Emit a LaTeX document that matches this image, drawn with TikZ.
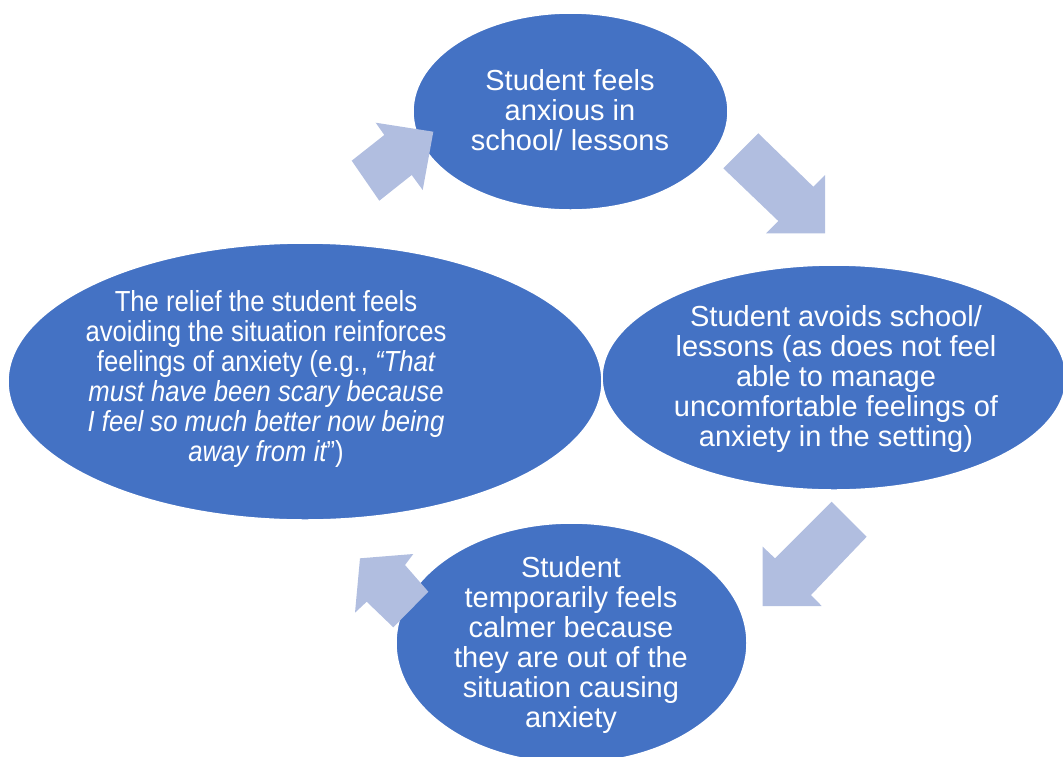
\documentclass[tikz,border=0pt]{standalone}
\usepackage{fontspec}
\setmainfont{Liberation Sans}
\newfontfamily\condfont{Liberation Sans}[FakeStretch=0.885]
\usetikzlibrary{shapes.geometric}
\definecolor{ellblue}{HTML}{4472C4}
\definecolor{arrblue}{HTML}{B1BEE0}
\tikzset{
  bubble/.style={ellipse, fill=ellblue, draw=white, line width=1.5pt, inner sep=0pt},
  bubbletext/.style={anchor=north, inner sep=0pt, align=center, text=white,
    font=\fontsize{29}{30}\selectfont},
  blockarrow/.style={fill=arrblue, draw=none}
}
\begin{document}
\begin{tikzpicture}[x=1pt,y=-1pt]
\useasboundingbox (0,0) rectangle (1063,756);
\begin{scope}
\clip (0,0) rectangle (1063,756);
% ellipses
\node[bubble, minimum width=315pt, minimum height=197pt] (etop) at (570.5,111.5) {};
\node[bubble, minimum width=594pt, minimum height=277pt] (eleft) at (305,381.5) {};
\node[bubble, minimum width=464pt, minimum height=225pt] (eright) at (834,377.5) {};
\node[bubble, minimum width=351pt, minimum height=240pt] (ebot) at (571.5,643) {};
% block arrows
\path[blockarrow] (351.7,160.7) -- (384.3,135) -- (375.7,122.7) -- (433.3,131.7)
  -- (422.7,190) -- (411.7,175) -- (379.3,200.7) -- cycle;
\path[blockarrow] (758.3,133.3) -- (813.3,186.7) -- (825,175) -- (825,233.3)
  -- (766,233.3) -- (778.3,221) -- (723.3,168.3) -- cycle;
\path[blockarrow] (831.7,501.7) -- (866.7,536.7) -- (811,595) -- (821.7,606)
  -- (762.7,606) -- (762.7,546.7) -- (775,558.3) -- cycle;
\path[blockarrow] (360,558.3) -- (413.3,554) -- (405,565) -- (428.3,591.7)
  -- (393.3,627.3) -- (366.7,601.7) -- (355,612.7) -- cycle;
% texts
\node[bubbletext] (ttop) at (570,69) {Student feels\\anxious in\\school/ lessons};
\node[bubbletext] (tright) at (836,305) {Student avoids school/\\lessons (as does not feel\\able to manage\\uncomfortable feelings of\\anxiety in the setting)};
\node[bubbletext] (tbot) at (571,556) {Student\\temporarily feels\\calmer because\\they are out of the\\situation causing\\anxiety};
\node[bubbletext, font=\condfont\fontsize{29}{30}\selectfont] (tleft) at (266,290)
  {The relief the student feels\\avoiding the situation reinforces\\feelings of anxiety (e.g., {\itshape “That}\\{\itshape must have been scary because}\\{\itshape I feel so much better now being}\\{\itshape away from it}”)};
\end{scope}
\end{tikzpicture}
\end{document}
